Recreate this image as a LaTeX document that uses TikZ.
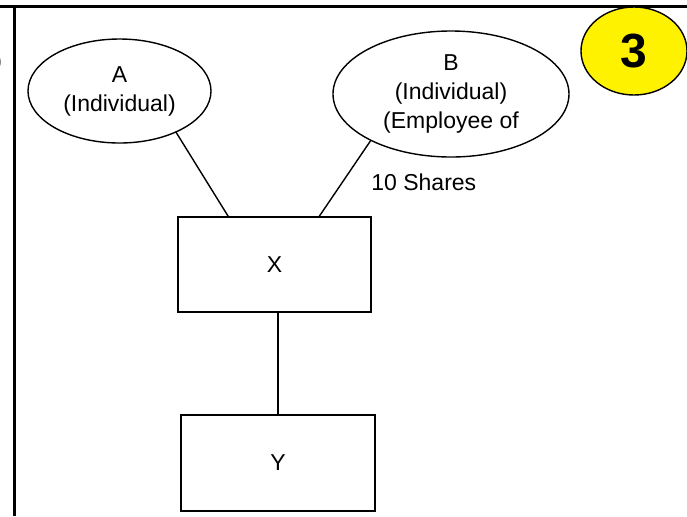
\documentclass[tikz,border=0pt]{standalone}
\usepackage{fontspec}
\setmainfont{Liberation Sans}
\usetikzlibrary{shapes.geometric}

\begin{document}
\begin{tikzpicture}[x=0.5pt,y=-0.5pt,
    party/.style={draw, ellipse, line width=0.7pt, inner sep=0pt, outer sep=0pt,
                  align=center, font=\fontsize{11.5}{14.5}\selectfont},
    company/.style={draw, rectangle, line width=0.7pt, inner sep=0pt, outer sep=0pt,
                    font=\fontsize{11.5}{14.5}\selectfont},
    link/.style={line width=0.7pt}]

  \useasboundingbox (0,0) rectangle (687,516);

  % --- page frame --------------------------------------------------
  \draw[line width=1.5pt] (0,6) -- (687,6);
  \draw[line width=1.5pt] (14,6) -- (14,516);
  \node[anchor=east, inner sep=0pt, font=\fontsize{11.5}{14.5}\selectfont]
        (cut) at (2.5,63) {)};

  % --- shareholders ----------------------------------------------
  \node[party, minimum width=91.5pt, minimum height=52pt] (A) at (119.5,91)
        {A\\(Individual)};
  \node[party, minimum width=118pt, minimum height=63pt] (B) at (451,94)
        {B\\(Individual)\\(Employee of};

  % --- companies -------------------------------------------------
  \node[company, minimum width=96.5pt, minimum height=47.5pt] (X) at (274.5,264.5) {X};
  \node[company, minimum width=97pt, minimum height=48pt] (Y) at (278,463) {Y};

  % --- holdings --------------------------------------------------
  \draw[link] (A.-36) -- (X.134);
  \draw[link] (B.210) -- (X.47);
  \draw[link] (Y.north |- X.south) -- (Y.north);

  \node[anchor=west, inner sep=0pt, font=\fontsize{11.5}{14.5}\selectfont]
        (shares) at (371,182) {10 Shares};

  % --- case number -----------------------------------------------
  \node[draw, ellipse, fill=yellow, line width=0.7pt, inner sep=0pt,
        minimum width=53pt, minimum height=44pt,
        font=\fontsize{24}{24}\selectfont\bfseries] (num) at (634,51) {3};

\end{tikzpicture}
\end{document}
